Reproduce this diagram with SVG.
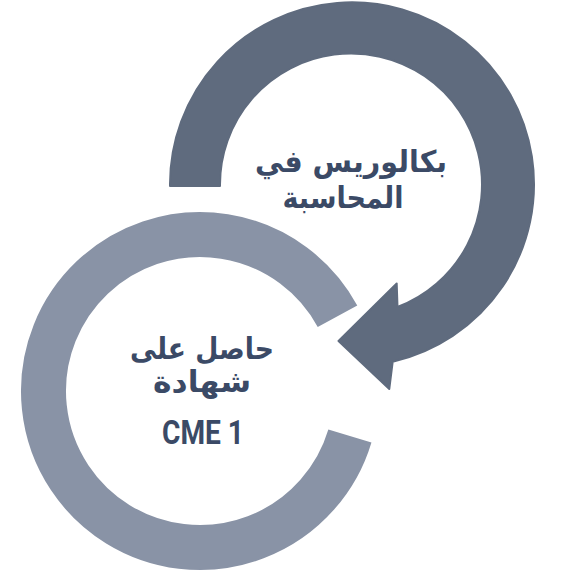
<svg xmlns="http://www.w3.org/2000/svg" width="564" height="573" viewBox="0 0 564 573">
<style>
.dark{fill:#5f6b7e;stroke:#5f6b7e;stroke-width:2;stroke-linejoin:round}
.light{fill:none;stroke:#8993a6;stroke-width:45;stroke-linecap:butt}
.lbl{font-family:"DejaVu Sans",sans-serif;font-weight:bold;fill:#3b4a66;text-anchor:middle}
.lat{font-family:"Roboto","Liberation Sans",sans-serif;font-weight:bold;fill:#3b4a66;text-anchor:middle}
</style>
<rect width="564" height="573" fill="#ffffff"/>
<g id="connectors">
<path id="arc-light" class="light" d="M 337.5 316.3 A 156.5 156.5 0 1 0 349.9 436"/>
<path id="arc-dark" class="dark" d="M 170 186 A 182 182 0 1 1 392.7 361.7 L 389.3 389 L 338.5 341 L 396.7 283.5 L 397.5 307 A 131 131 0 1 0 220 186 Z"/>
</g>
<g id="node-bachelor">
<text class="lbl" x="351" y="172" font-size="30" direction="rtl" textLength="192" lengthAdjust="spacingAndGlyphs">بكالوريس في</text>
<text class="lbl" x="343" y="208" font-size="30" direction="rtl" textLength="121" lengthAdjust="spacingAndGlyphs">المحاسبة</text>
</g>
<g id="node-cme">
<text class="lbl" x="202" y="359" font-size="30" direction="rtl" textLength="144" lengthAdjust="spacingAndGlyphs">حاصل على</text>
<text class="lbl" x="202" y="392" font-size="30" direction="rtl" textLength="98" lengthAdjust="spacingAndGlyphs">شهادة</text>
<text class="lat" x="203" y="444" font-size="33" textLength="82" lengthAdjust="spacingAndGlyphs">CME 1</text>
</g>
</svg>
